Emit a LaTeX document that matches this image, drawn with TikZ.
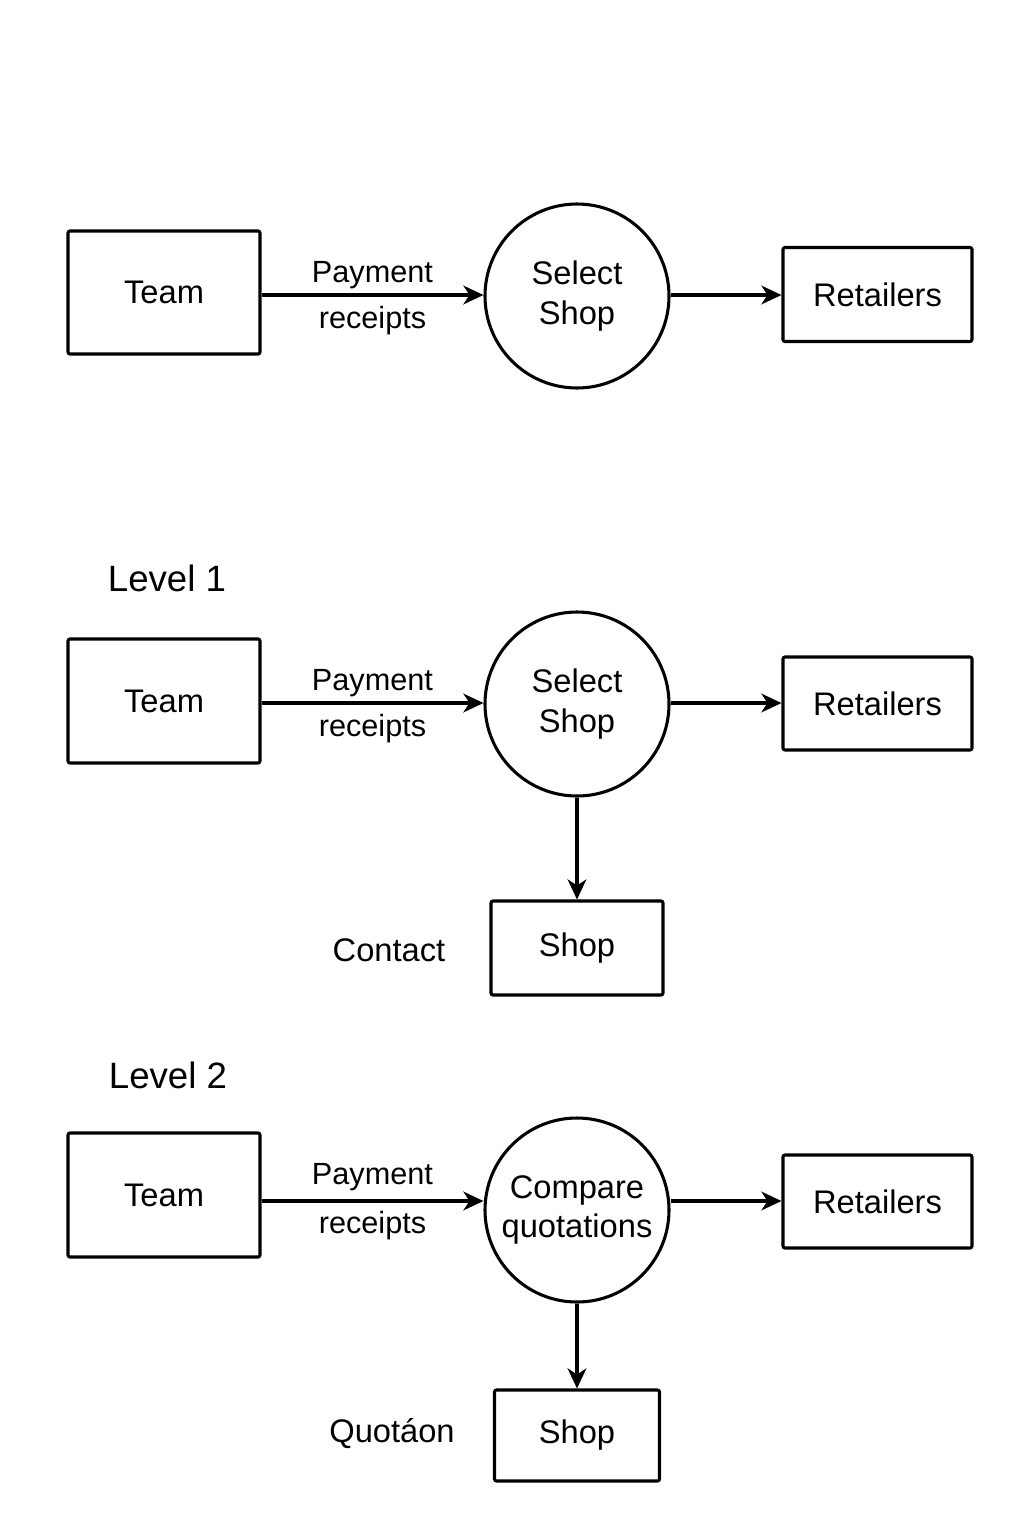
\documentclass[tikz,border=0pt]{standalone}
\usepackage{fontspec}
\setmainfont{Liberation Sans}
\usetikzlibrary{arrows.meta}
\begin{document}
\begin{tikzpicture}[x=0.75pt,y=-0.75pt,
  every node/.style={font=\fontsize{24.5}{29.5}\selectfont},
  box/.style={draw, line width=2.3pt, rounded corners=1.5pt, inner sep=0pt},
  proc/.style={draw, circle, line width=2.3pt, minimum size=138pt, inner sep=0pt, align=center},
  flow/.style={line width=2.3pt, -{Stealth[length=15pt,width=14pt,inset=4.5pt]}},
  lbl/.style={font=\fontsize{23}{27}\selectfont, inner sep=0pt},
  lvl/.style={font=\fontsize{27.5}{32}\selectfont, inner sep=0pt},
  side/.style={font=\fontsize{24.5}{29.5}\selectfont, inner sep=0pt}]
\useasboundingbox (0,0) rectangle (1024,1536);
% Row 0
\node[box, minimum width=144pt, minimum height=92.25pt] (team0) at (164,292.5) {Team};
\node[proc] (sel0) at (577,296) {Select\\Shop};
\node[box, minimum width=141.75pt, minimum height=70.5pt] (ret0) at (877.5,294.5) {Retailers};
\draw[flow] (team0.east |- 0,295) -- (sel0.west |- 0,295)
  node[lbl, midway, yshift=15pt] (pay0) {Payment}
  node[lbl, midway, yshift=-19pt] (rec0) {receipts};
\draw[flow] (sel0.east |- 0,295) -- (ret0.west |- 0,295);
% Level 1
\node[lvl] (lev1) at (167,578) {Level 1};
\node[box, minimum width=144pt, minimum height=93pt] (team1) at (164,701) {Team};
\node[proc] (sel1) at (577,704) {Select\\Shop};
\node[box, minimum width=141.75pt, minimum height=69.75pt] (ret1) at (877.5,703.5) {Retailers};
\draw[flow] (team1.east |- 0,703) -- (sel1.west |- 0,703)
  node[lbl, midway, yshift=15pt] (pay1) {Payment}
  node[lbl, midway, yshift=-19pt] (rec1) {receipts};
\draw[flow] (sel1.east |- 0,703) -- (ret1.west |- 0,703);
\node[box, minimum width=129pt, minimum height=70.5pt] (shop1) at (577,948) {Shop};
\draw[flow] (sel1.south) -- (shop1.north);
\node[side] (con1) at (389,950) {Contact};
% Level 2
\node[lvl] (lev2) at (168,1075) {Level 2};
\node[box, minimum width=144pt, minimum height=93pt] (team2) at (164,1195) {Team};
\node[proc] (cmp2) at (577,1210) {Compare\\quotations};
\node[box, minimum width=141.75pt, minimum height=69.75pt] (ret2) at (877.5,1201.5) {Retailers};
\draw[flow] (team2.east |- 0,1201) -- (cmp2.west |- 0,1201)
  node[lbl, midway, yshift=18pt] (pay2) {Payment}
  node[lbl, midway, yshift=-18.5pt] (rec2) {receipts};
\draw[flow] (cmp2.east |- 0,1201) -- (ret2.west |- 0,1201);
\node[box, minimum width=123.75pt, minimum height=68.25pt] (shop2) at (577,1435.5) {Shop};
\draw[flow] (cmp2.south) -- (shop2.north);
\node[side] (quo2) at (392,1434) {Quotáon};
\end{tikzpicture}
\end{document}
